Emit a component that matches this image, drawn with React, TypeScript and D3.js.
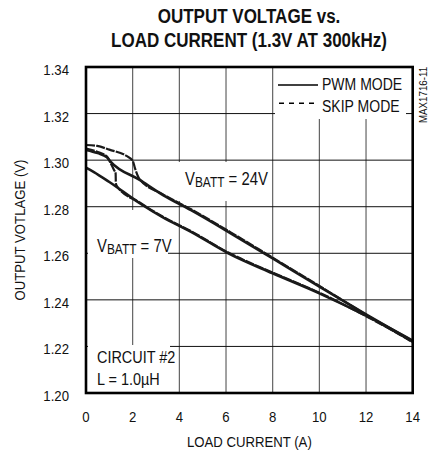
import React from 'react';
import * as d3 from 'd3';

// load current (A) vs output voltage (V)
const currentTicks = [0, 2, 4, 6, 8, 10, 12, 14];
const voltageTicks = [1.2, 1.22, 1.24, 1.26, 1.28, 1.3, 1.32, 1.34];

const pwm24: [number, number][] = [
  [0, 1.3044], [0.5, 1.3030], [0.9, 1.3012], [1.06, 1.2993], [2.3, 1.2915], [3.3, 1.2850],
  [4.5, 1.2785], [6.2, 1.2686], [8.0, 1.2578], [10.0, 1.2457], [12.0, 1.2338], [14.0, 1.2222],
];
const skip24: [number, number][] = [
  [0, 1.3065], [0.48, 1.3061], [1.0, 1.3045], [1.74, 1.3018], [2.0, 1.2998], [2.1, 1.2965],
  [2.3, 1.2918], [3.3, 1.2853], [4.5, 1.2789], [6.2, 1.2690], [8.0, 1.2581], [10.0, 1.2460],
  [12.0, 1.2336], [14.0, 1.2218],
];
const pwm7: [number, number][] = [
  [0, 1.2968], [0.34, 1.2949], [1.0, 1.2906], [2.3, 1.2815], [3.26, 1.2756], [4.5, 1.2692],
  [6.1, 1.2600], [8.0, 1.2514], [10.0, 1.2428], [12.0, 1.2332], [14.0, 1.2225],
];
const skip7: [number, number][] = [
  [0, 1.3050], [0.5, 1.3035], [0.9, 1.3015], [1.06, 1.2986], [1.2, 1.2958], [1.27, 1.2943],
  [1.28, 1.2900], [1.34, 1.2886], [2.3, 1.2818], [3.26, 1.2759], [4.5, 1.2695], [6.1, 1.2603],
  [8.0, 1.2517], [10.0, 1.2431], [12.0, 1.2330], [14.0, 1.2221],
];

const FONT = "'Liberation Sans', Arial, sans-serif";

// condensed text: the source uses a narrow Helvetica, squeeze a regular face instead
const NText: React.FC<{
  x: number; y: number; size: number; sx?: number; anchor?: string; weight?: string; rotate?: number;
  children: React.ReactNode;
}> = ({ x, y, size, sx = 0.85, anchor = 'start', weight = 'normal', rotate = 0, children }) => (
  <text
    transform={`translate(${x},${y})${rotate ? ` rotate(${rotate})` : ''} scale(${sx},1)`}
    textAnchor={anchor}
    fontFamily={FONT}
    fontSize={size}
    fontWeight={weight}
    fill="#111"
  >
    {children}
  </text>
);

const App: React.FC = () => {
  const width = 430;
  const height = 455;
  const margin = { top: 67, right: 17.3, bottom: 62, left: 86 };

  const x = d3.scaleLinear().domain([0, 14]).range([margin.left, width - margin.right]);
  const y = d3.scaleLinear().domain([1.2, 1.34]).range([height - margin.bottom, margin.top]);

  const line = d3.line<[number, number]>()
    .x(d => x(d[0]))
    .y(d => y(d[1]))
    .curve(d3.curveMonotoneX);

  const x0 = x(0), x1 = x(14), y0 = y(1.2), y1 = y(1.34);

  return (
    <div style={{ position: 'fixed', left: 0, top: 0 }}>
      <svg width={width} height={height} style={{ display: 'block', background: '#fff' }}>
        {/* title */}
        <NText x={249} y={23} size={20.5} sx={0.83} anchor="middle" weight="bold">OUTPUT VOLTAGE vs.</NText>
        <NText x={249} y={47} size={20.5} sx={0.83} anchor="middle" weight="bold">LOAD CURRENT (1.3V AT 300kHz)</NText>

        {/* grid */}
        {currentTicks.slice(1, -1).map(t => (
          <line key={'vx' + t} x1={x(t)} x2={x(t)} y1={y1} y2={y0} stroke="#555" strokeWidth={1.1} />
        ))}
        {voltageTicks.slice(1, -1).map(t => (
          <line key={'hy' + t} x1={x0} x2={x1} y1={y(t)} y2={y(t)} stroke="#111" strokeWidth={1} />
        ))}

        {/* white boxes behind labels */}
        <rect x={275} y={y1} width={131} height={52} fill="#fff" />
        <rect x={177} y={162} width={94} height={39} fill="#fff" />
        <rect x={88} y={210} width={80} height={48} fill="#fff" />
        <rect x={88} y={345} width={82} height={47} fill="#fff" />

        {/* curves */}
        <path d={line(pwm24) || ''} fill="none" stroke="#1a1a1a" strokeWidth={2.6} />
        <path d={line(pwm7) || ''} fill="none" stroke="#1a1a1a" strokeWidth={2.6} />
        <path d={line(skip24) || ''} fill="none" stroke="#1a1a1a" strokeWidth={2.2} strokeDasharray="9,1.2" />
        <path d={line(skip7) || ''} fill="none" stroke="#1a1a1a" strokeWidth={2.2} strokeDasharray="9,1.2" />

        {/* frame */}
        <rect x={x0} y={y1} width={x1 - x0} height={y0 - y1} fill="none" stroke="#000" strokeWidth={2.6} />

        {/* y ticks */}
        {voltageTicks.map(t => (
          <NText key={'yl' + t} x={69} y={y(t) + 8} size={15.5} anchor="end">{t.toFixed(2)}</NText>
        ))}
        {/* x ticks */}
        {currentTicks.map(t => (
          <NText key={'xl' + t} x={x(t)} y={421.5} size={15.5} anchor="middle">{t}</NText>
        ))}

        <NText x={(x0 + x1) / 2} y={447} size={15.5} anchor="middle">LOAD CURRENT (A)</NText>
        <NText x={25} y={(y0 + y1) / 2} size={15.5} anchor="middle" rotate={-90}>OUTPUT VOTLAGE (V)</NText>

        <NText x={427} y={95} size={11.5} anchor="middle" rotate={-90}>MAX1716-11</NText>

        {/* legend */}
        <line x1={278} x2={318} y1={85} y2={85} stroke="#000" strokeWidth={1.5} />
        <NText x={322} y={89.5} size={16.5}>PWM MODE</NText>
        <line x1={279} x2={318} y1={103.3} y2={103.3} stroke="#000" strokeWidth={1.5} strokeDasharray="5,5" />
        <NText x={322} y={111.7} size={16.5}>SKIP MODE</NText>

        {/* annotations */}
        <NText x={185} y={185} size={17.5}>V<tspan fontSize={14} dy={2}>BATT</tspan><tspan dy={-2}> = 24V</tspan></NText>
        <NText x={97} y={251.5} size={17.5}>V<tspan fontSize={14} dy={2}>BATT</tspan><tspan dy={-2}> = 7V</tspan></NText>
        <NText x={97} y={362.7} size={17}>CIRCUIT #2</NText>
        <NText x={97} y={385} size={17}>L = 1.0µH</NText>
      </svg>
    </div>
  );
};

export default App;
